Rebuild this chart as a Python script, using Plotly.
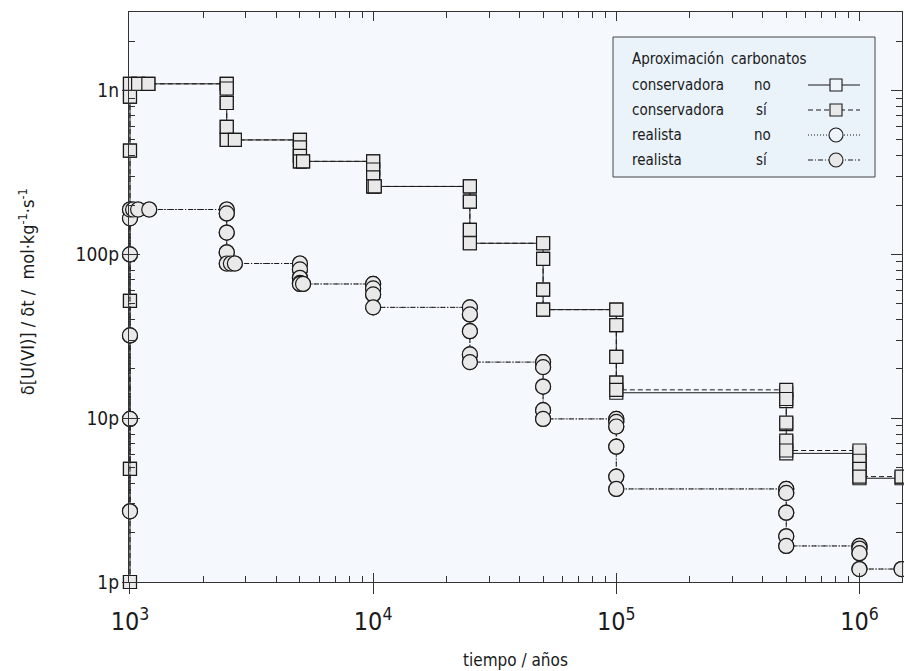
import plotly.graph_objects as go

# ---------------------------------------------------------------------------
# Release rate of U(VI) versus time for the four model variants
# ---------------------------------------------------------------------------
cons_t = [
    1000, 1000, 1000, 1000, 1000, 1000, 1080, 1190,
    2500, 2500, 2500, 2500, 2500, 2700,
    5000, 5000, 5000, 5000, 5150,
    10000, 10000, 10000, 10000, 10150,
    25000, 25000, 25000, 25000,
    50000, 50000, 50000, 50000,
    1e5, 1e5, 1e5, 1e5, 1e5,
    5e5, 5e5, 5e5, 5e5, 5e5,
    1e6, 1e6, 1e6, 1e6,
    1.49e6,
]
cons_no = [
    1.0e-12, 4.9e-12, 5.2e-11, 4.3e-10, 9.2e-10, 1.10e-9, 1.10e-9, 1.10e-9,
    1.10e-9, 1.03e-9, 8.4e-10, 6.0e-10, 5.0e-10, 5.0e-10,
    5.0e-10, 4.5e-10, 4.0e-10, 3.7e-10, 3.7e-10,
    3.7e-10, 3.3e-10, 2.95e-10, 2.6e-10, 2.6e-10,
    2.6e-10, 2.1e-10, 1.41e-10, 1.17e-10,
    1.17e-10, 9.4e-11, 6.1e-11, 4.6e-11,
    4.6e-11, 3.7e-11, 2.37e-11, 1.65e-11, 1.43e-11,
    1.43e-11, 1.27e-11, 9.2e-12, 7.1e-12, 6.1e-12,
    6.1e-12, 5.4e-12, 4.8e-12, 4.3e-12,
    4.3e-12,
]
cons_si = [
    1.0e-12, 4.9e-12, 5.2e-11, 4.3e-10, 9.2e-10, 1.10e-9, 1.10e-9, 1.10e-9,
    1.10e-9, 1.03e-9, 8.4e-10, 6.0e-10, 5.0e-10, 5.0e-10,
    5.0e-10, 4.5e-10, 4.0e-10, 3.7e-10, 3.7e-10,
    3.7e-10, 3.3e-10, 2.95e-10, 2.6e-10, 2.6e-10,
    2.6e-10, 2.1e-10, 1.41e-10, 1.17e-10,
    1.17e-10, 9.4e-11, 6.1e-11, 4.6e-11,
    4.6e-11, 3.7e-11, 2.37e-11, 1.65e-11, 1.49e-11,
    1.49e-11, 1.31e-11, 9.4e-12, 7.3e-12, 6.35e-12,
    6.35e-12, 5.5e-12, 4.9e-12, 4.4e-12,
    4.4e-12,
]

real_t = [
    1000, 1000, 1000, 1000, 1000, 1000, 1030, 1080, 1200,
    2500, 2500, 2500, 2500, 2500, 2600, 2700,
    5000, 5000, 5000, 5000, 5000, 5150,
    10000, 10000, 10000, 10000,
    25000, 25000, 25000, 25000, 25000,
    50000, 50000, 50000, 50000, 50000,
    1e5, 1e5, 1e5, 1e5, 1e5, 1e5,
    5e5, 5e5, 5e5, 5e5, 5e5,
    1e6, 1e6, 1e6, 1e6,
    1.49e6,
]
real_no = [
    2.7e-12, 9.9e-12, 3.2e-11, 1.0e-10, 1.66e-10, 1.88e-10, 1.88e-10, 1.88e-10, 1.88e-10,
    1.88e-10, 1.78e-10, 1.36e-10, 1.03e-10, 8.8e-11, 8.8e-11, 8.8e-11,
    8.8e-11, 8.1e-11, 7.2e-11, 6.7e-11, 6.6e-11, 6.6e-11,
    6.6e-11, 6.2e-11, 5.7e-11, 4.75e-11,
    4.75e-11, 4.3e-11, 3.4e-11, 2.45e-11, 2.2e-11,
    2.2e-11, 2.05e-11, 1.56e-11, 1.12e-11, 9.9e-12,
    9.9e-12, 9.5e-12, 8.9e-12, 6.7e-12, 4.4e-12, 3.7e-12,
    3.7e-12, 3.5e-12, 2.65e-12, 1.9e-12, 1.66e-12,
    1.66e-12, 1.6e-12, 1.5e-12, 1.2e-12,
    1.2e-12,
]
real_si = [
    2.7e-12, 9.9e-12, 3.2e-11, 1.0e-10, 1.66e-10, 1.88e-10, 1.88e-10, 1.88e-10, 1.88e-10,
    1.88e-10, 1.78e-10, 1.36e-10, 1.03e-10, 8.8e-11, 8.8e-11, 8.8e-11,
    8.8e-11, 8.1e-11, 7.2e-11, 6.7e-11, 6.6e-11, 6.6e-11,
    6.6e-11, 6.2e-11, 5.7e-11, 4.75e-11,
    4.75e-11, 4.3e-11, 3.4e-11, 2.45e-11, 2.2e-11,
    2.2e-11, 2.05e-11, 1.56e-11, 1.12e-11, 9.9e-12,
    9.9e-12, 9.5e-12, 8.9e-12, 6.7e-12, 4.4e-12, 3.7e-12,
    3.7e-12, 3.5e-12, 2.65e-12, 1.9e-12, 1.66e-12,
    1.66e-12, 1.6e-12, 1.5e-12, 1.2e-12,
    1.2e-12,
]

legend_rows = [
    ("conservadora", "no"),
    ("conservadora", "sí"),
    ("realista", "no"),
    ("realista", "sí"),
]
legend_header = ("Aproximación", "carbonatos")

# ---------------------------------------------------------------------------
FONT = "Liberation Sans Narrow, Arial Narrow, DejaVu Sans Condensed, sans-serif"
INK = "#1a1a1a"
AXIS = "#333333"
FILL_SI = "#e9e9e9"
FILL_NO = "#eef4fa"

styles = [
    dict(t=cons_t, y=cons_no, symbol="square", size=13, dash="solid", fill=FILL_NO),
    dict(t=cons_t, y=cons_si, symbol="square", size=13, dash="5px,3px", fill=FILL_SI),
    dict(t=real_t, y=real_no, symbol="circle", size=15, dash="1px,2px", fill=FILL_NO),
    dict(t=real_t, y=real_si, symbol="circle", size=15, dash="5px,2px,1px,2px", fill=FILL_SI),
]

fig = go.Figure()

for (aprox, carb), s in zip(legend_rows, styles):
    fig.add_trace(go.Scatter(
        x=s["t"], y=s["y"], mode="lines+markers",
        name=f"{aprox} {carb}",
        line=dict(color=INK, width=1, dash=s["dash"]),
        marker=dict(symbol=s["symbol"], size=s["size"], color=s["fill"],
                    line=dict(color=INK, width=1.2)),
        cliponaxis=False,
        showlegend=False, hoverinfo="skip",
    ))

# invisible anchors so the tick-only overlay axes get drawn
fig.add_trace(go.Scatter(x=[1e4], y=[1e-10], xaxis="x2", yaxis="y", mode="markers",
                         marker=dict(opacity=0), showlegend=False, hoverinfo="skip"))
fig.add_trace(go.Scatter(x=[1e4], y=[1e-10], xaxis="x", yaxis="y2", mode="markers",
                         marker=dict(opacity=0), showlegend=False, hoverinfo="skip"))

# ---------------------------------------------------------------------------
# Key box (drawn on a pixel-like helper axis pair)
row_y = [85, 110, 135, 160]
for (aprox, carb), s, yy in zip(legend_rows, styles, row_y):
    fig.add_trace(go.Scatter(
        x=[808, 860], y=[yy, yy], xaxis="x3", yaxis="y3", mode="lines",
        line=dict(color=INK, width=1, dash=s["dash"]),
        showlegend=False, hoverinfo="skip"))
    fig.add_trace(go.Scatter(
        x=[836], y=[yy], xaxis="x3", yaxis="y3", mode="markers",
        marker=dict(symbol=s["symbol"], size=s["size"] - 1, color=s["fill"],
                    line=dict(color=INK, width=1.1)),
        showlegend=False, hoverinfo="skip"))

annotations = [
    dict(x=630, y=59, text=legend_header[0], xanchor="left"),
    dict(x=729, y=59, text=legend_header[1], xanchor="left"),
]
for (aprox, carb), yy in zip(legend_rows, row_y):
    annotations.append(dict(x=630, y=yy, text=aprox, xanchor="left"))
    annotations.append(dict(x=762, y=yy, text=carb, xanchor="center"))
for a in annotations:
    a.update(xref="x3", yref="y3", yanchor="middle", showarrow=False,
             font=dict(family=FONT, size=15, color=INK))

# axis titles
annotations.append(dict(
    xref="paper", yref="paper", x=0.5, y=-0.137, xanchor="center", yanchor="middle",
    text="tiempo / años", showarrow=False,
    font=dict(family=FONT, size=17, color=INK)))
annotations.append(dict(
    xref="paper", yref="paper", x=-0.132, y=0.51, xanchor="center", yanchor="middle",
    textangle=-90, showarrow=False,
    text="δ[U(VI)] / δt /  mol·kg<sup>-1</sup>·s<sup>-1</sup>",
    font=dict(family=FONT, size=18, color=INK)))

shapes = [dict(type="rect", xref="x3", yref="y3", x0=613, x1=875, y0=37, y1=177,
               line=dict(color="#444444", width=1), fillcolor="#eaf2fa", layer="below")]

XR = [2.996, 6.175]
YR = [-12.0, -8.52]

fig.update_layout(
    width=904, height=671,
    margin=dict(l=129, r=2, t=12, b=89),
    paper_bgcolor="white", plot_bgcolor="#f5f9fd",
    font=dict(family=FONT, color=INK),
    annotations=annotations, shapes=shapes,
    xaxis=dict(
        type="log", range=XR, dtick=1, exponentformat="power", showexponent="all",
        tickfont=dict(family=FONT, size=20, color=INK),
        ticks="inside", ticklen=9, tickwidth=1, tickcolor=AXIS,
        minor=dict(ticks="inside", ticklen=6, tickwidth=1, tickcolor=AXIS, dtick="D1", showgrid=False),
        showline=True, linecolor=AXIS, linewidth=1.3, mirror="ticks",
        showgrid=False, zeroline=False, ticklabelstandoff=18,
    ),
    xaxis2=dict(
        type="log", range=XR, dtick=1, overlaying="x", anchor="y", side="bottom",
        ticks="outside", ticklen=11, tickwidth=1, tickcolor=AXIS,
        showticklabels=False, showline=False, showgrid=False, zeroline=False,
    ),
    yaxis=dict(
        type="log", range=YR, dtick=1, exponentformat="SI",
        tickfont=dict(family=FONT, size=19, color=INK),
        ticks="inside", ticklen=11, tickwidth=1, tickcolor=AXIS,
        minor=dict(ticks="inside", ticklen=6, tickwidth=1, tickcolor=AXIS, dtick="D1", showgrid=False),
        showline=True, linecolor=AXIS, linewidth=1.3, mirror="ticks",
        showgrid=False, zeroline=False, ticklabelstandoff=5,
    ),
    yaxis2=dict(
        type="log", range=YR, dtick=1, overlaying="y", anchor="x", side="left",
        ticks="outside", ticklen=6, tickwidth=1, tickcolor=AXIS,
        showticklabels=False, showline=False, showgrid=False, zeroline=False,
    ),
    xaxis3=dict(range=[129, 902], overlaying="x", anchor="y3", visible=False),
    yaxis3=dict(range=[582, 12], overlaying="y", anchor="x3", visible=False),
)

fig.write_html("out.html")
